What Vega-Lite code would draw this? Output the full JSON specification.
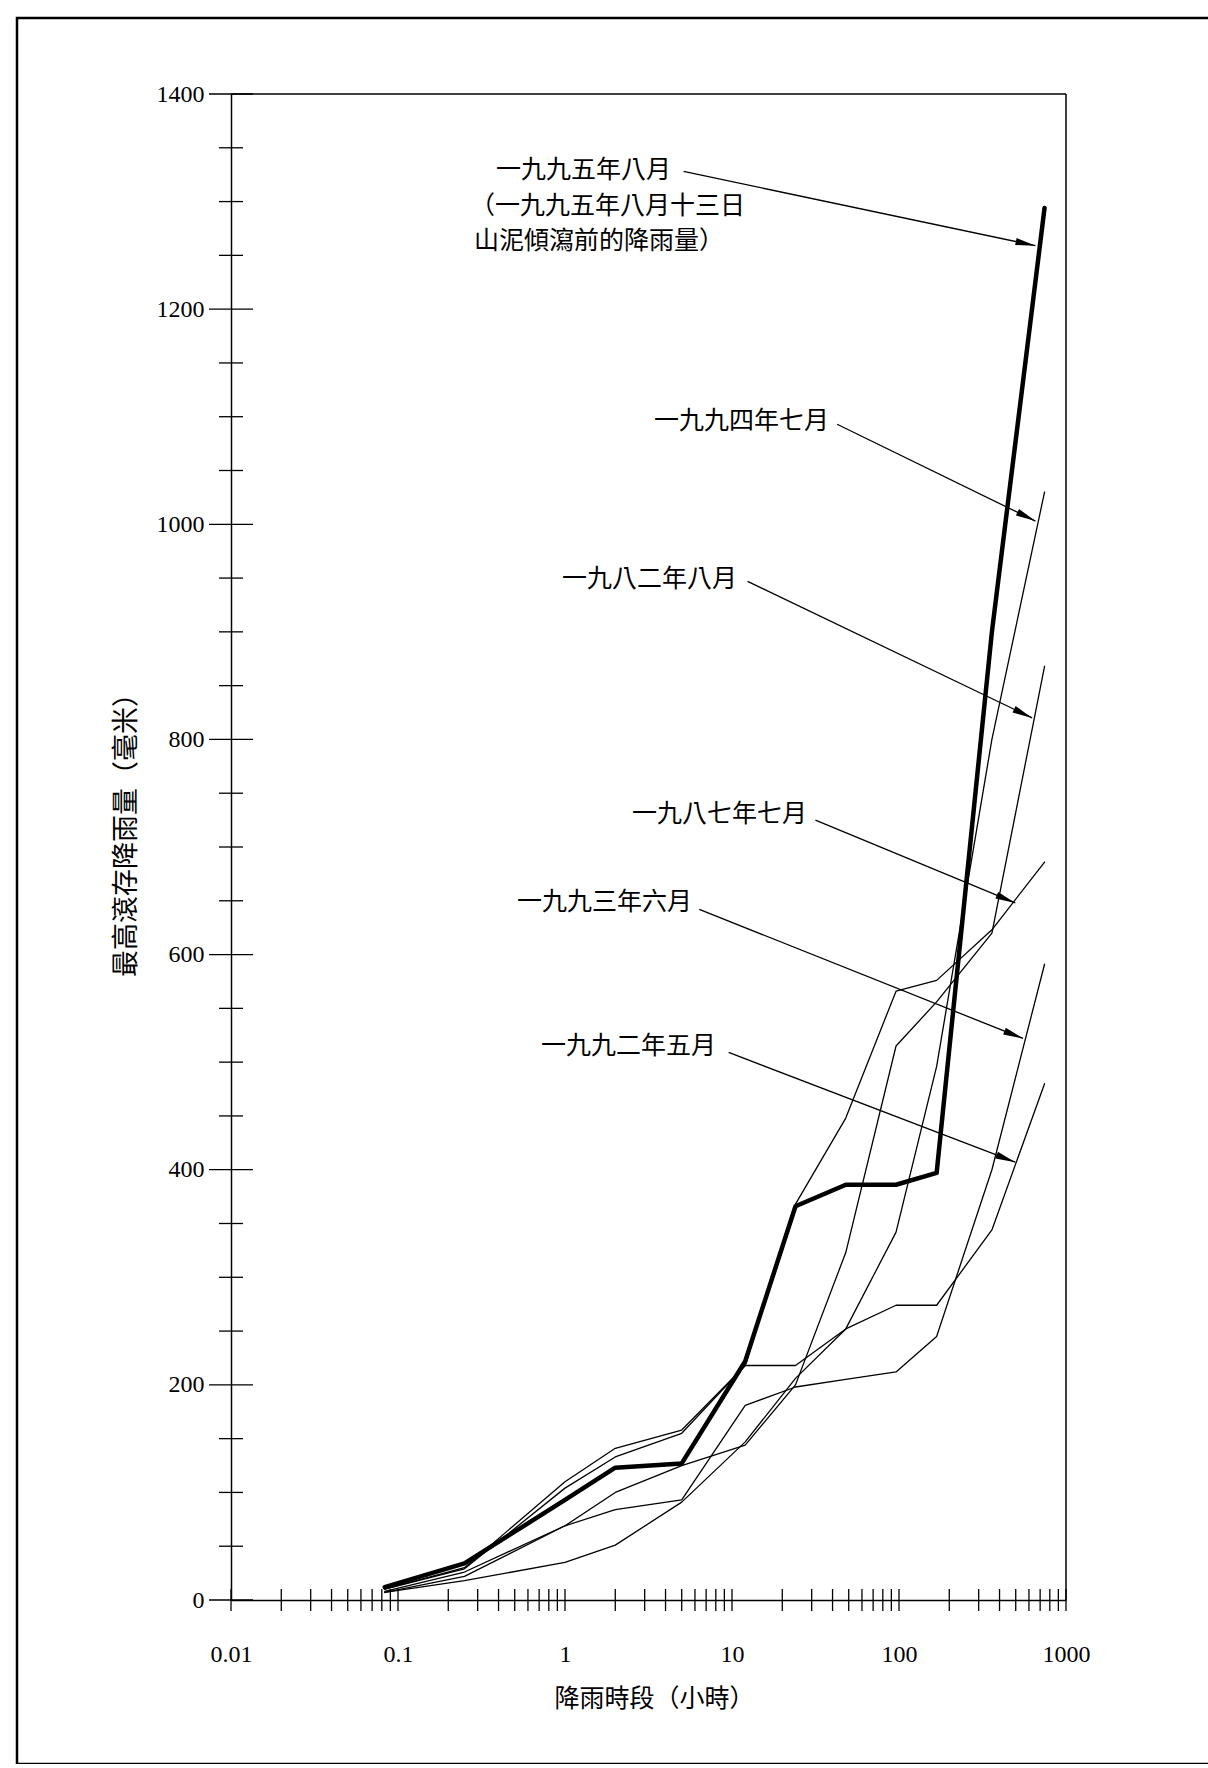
{
  "$schema": "https://vega.github.io/schema/vega-lite/v6.json",
  "autosize": "none",
  "width": 1200,
  "height": 1746,
  "padding": {"left": 17, "top": 18, "right": 0, "bottom": 0},
  "background": "white",
  "config": {
    "view": {"stroke": "black", "strokeWidth": 2.5},
    "font": "Noto Sans CJK TC"
  },
  "datasets": {
    "curves": [
      {"series": "1995-08", "h": 0.0833, "mm": 12}, {"series": "1995-08", "h": 0.25, "mm": 34}, {"series": "1995-08", "h": 1, "mm": 93}, {"series": "1995-08", "h": 2, "mm": 123}, {"series": "1995-08", "h": 5, "mm": 127}, {"series": "1995-08", "h": 12, "mm": 222}, {"series": "1995-08", "h": 24, "mm": 366}, {"series": "1995-08", "h": 48, "mm": 386}, {"series": "1995-08", "h": 96, "mm": 386}, {"series": "1995-08", "h": 168, "mm": 397}, {"series": "1995-08", "h": 360, "mm": 900}, {"series": "1995-08", "h": 744, "mm": 1294},
      {"series": "1992-05", "h": 0.0833, "mm": 10}, {"series": "1992-05", "h": 0.25, "mm": 30}, {"series": "1992-05", "h": 1, "mm": 110}, {"series": "1992-05", "h": 2, "mm": 141}, {"series": "1992-05", "h": 5, "mm": 158}, {"series": "1992-05", "h": 12, "mm": 218}, {"series": "1992-05", "h": 24, "mm": 218}, {"series": "1992-05", "h": 48, "mm": 252}, {"series": "1992-05", "h": 96, "mm": 274}, {"series": "1992-05", "h": 168, "mm": 274}, {"series": "1992-05", "h": 360, "mm": 344}, {"series": "1992-05", "h": 744, "mm": 480},
      {"series": "1987-07", "h": 0.0833, "mm": 10}, {"series": "1987-07", "h": 0.25, "mm": 29}, {"series": "1987-07", "h": 1, "mm": 104}, {"series": "1987-07", "h": 2, "mm": 133}, {"series": "1987-07", "h": 5, "mm": 155}, {"series": "1987-07", "h": 12, "mm": 218}, {"series": "1987-07", "h": 24, "mm": 368}, {"series": "1987-07", "h": 48, "mm": 448}, {"series": "1987-07", "h": 96, "mm": 566}, {"series": "1987-07", "h": 168, "mm": 576}, {"series": "1987-07", "h": 360, "mm": 623}, {"series": "1987-07", "h": 744, "mm": 686},
      {"series": "1993-06", "h": 0.0833, "mm": 7}, {"series": "1993-06", "h": 0.25, "mm": 22}, {"series": "1993-06", "h": 1, "mm": 69}, {"series": "1993-06", "h": 2, "mm": 84}, {"series": "1993-06", "h": 5, "mm": 93}, {"series": "1993-06", "h": 12, "mm": 181}, {"series": "1993-06", "h": 24, "mm": 198}, {"series": "1993-06", "h": 48, "mm": 205}, {"series": "1993-06", "h": 96, "mm": 212}, {"series": "1993-06", "h": 168, "mm": 245}, {"series": "1993-06", "h": 360, "mm": 400}, {"series": "1993-06", "h": 744, "mm": 591},
      {"series": "1994-07", "h": 0.0833, "mm": 7}, {"series": "1994-07", "h": 0.25, "mm": 18}, {"series": "1994-07", "h": 1, "mm": 35}, {"series": "1994-07", "h": 2, "mm": 51}, {"series": "1994-07", "h": 5, "mm": 91}, {"series": "1994-07", "h": 12, "mm": 147}, {"series": "1994-07", "h": 24, "mm": 206}, {"series": "1994-07", "h": 48, "mm": 252}, {"series": "1994-07", "h": 96, "mm": 342}, {"series": "1994-07", "h": 168, "mm": 496}, {"series": "1994-07", "h": 360, "mm": 800}, {"series": "1994-07", "h": 744, "mm": 1030},
      {"series": "1982-08", "h": 0.0833, "mm": 8}, {"series": "1982-08", "h": 0.25, "mm": 26}, {"series": "1982-08", "h": 1, "mm": 69}, {"series": "1982-08", "h": 2, "mm": 100}, {"series": "1982-08", "h": 5, "mm": 125}, {"series": "1982-08", "h": 12, "mm": 144}, {"series": "1982-08", "h": 24, "mm": 200}, {"series": "1982-08", "h": 48, "mm": 323}, {"series": "1982-08", "h": 96, "mm": 515}, {"series": "1982-08", "h": 168, "mm": 556}, {"series": "1982-08", "h": 360, "mm": 620}, {"series": "1982-08", "h": 744, "mm": 868}
    ],
    "labels": [
      {"text": "一九九五年八月", "x": 0.386, "y": 1329},
      {"text": "（一九九五年八月十三日", "x": 0.27, "y": 1296},
      {"text": "山泥傾瀉前的降雨量）", "x": 0.285, "y": 1263},
      {"text": "一九九四年七月", "x": 3.41, "y": 1096},
      {"text": "一九八二年八月", "x": 0.959, "y": 949},
      {"text": "一九八七年七月", "x": 2.52, "y": 731},
      {"text": "一九九三年六月", "x": 0.516, "y": 649},
      {"text": "一九九二年五月", "x": 0.718, "y": 515}
    ],
    "arrows": [
      {"x1": 5.13, "y1": 1328, "x2": 656, "y2": 1259},
      {"x1": 42.6, "y1": 1093, "x2": 656, "y2": 1003},
      {"x1": 12.4, "y1": 947, "x2": 627, "y2": 820},
      {"x1": 31.6, "y1": 725, "x2": 497, "y2": 648},
      {"x1": 6.37, "y1": 642, "x2": 553, "y2": 522},
      {"x1": 9.55, "y1": 509, "x2": 497, "y2": 407}
    ],
    "yMajor": [{"v": 0}, {"v": 200}, {"v": 400}, {"v": 600}, {"v": 800}, {"v": 1000}, {"v": 1200}, {"v": 1400}],
    "yMinor": [{"v": 50}, {"v": 100}, {"v": 150}, {"v": 250}, {"v": 300}, {"v": 350}, {"v": 450}, {"v": 500}, {"v": 550}, {"v": 650}, {"v": 700}, {"v": 750}, {"v": 850}, {"v": 900}, {"v": 950}, {"v": 1050}, {"v": 1100}, {"v": 1150}, {"v": 1250}, {"v": 1300}, {"v": 1350}],
    "xTicks": [
      {"t": 0.01}, {"t": 0.02}, {"t": 0.03}, {"t": 0.04}, {"t": 0.05}, {"t": 0.06}, {"t": 0.07}, {"t": 0.08}, {"t": 0.09},
      {"t": 0.1}, {"t": 0.2}, {"t": 0.3}, {"t": 0.4}, {"t": 0.5}, {"t": 0.6}, {"t": 0.7}, {"t": 0.8}, {"t": 0.9},
      {"t": 1}, {"t": 2}, {"t": 3}, {"t": 4}, {"t": 5}, {"t": 6}, {"t": 7}, {"t": 8}, {"t": 9},
      {"t": 10}, {"t": 20}, {"t": 30}, {"t": 40}, {"t": 50}, {"t": 60}, {"t": 70}, {"t": 80}, {"t": 90},
      {"t": 100}, {"t": 200}, {"t": 300}, {"t": 400}, {"t": 500}, {"t": 600}, {"t": 700}, {"t": 800}, {"t": 900},
      {"t": 1000}
    ]
  },
  "layer": [
    {
      "data": {"name": "curves"},
      "mark": {"type": "line", "color": "black", "strokeCap": "round", "strokeJoin": "round"},
      "encoding": {
        "x": {
          "field": "h", "type": "quantitative",
          "scale": {"type": "log", "domain": [0.01, 1000], "range": [214, 1049]},
          "axis": {
            "values": [0.01, 0.1, 1, 10, 100, 1000], "format": "~g",
            "ticks": false, "tickSize": 0, "grid": false,
            "labelPadding": 42, "labelFont": "Liberation Serif", "labelFontSize": 24, "labelColor": "black",
            "labelFlush": false, "labelOverlap": false,
            "domainColor": "black", "domainWidth": 1.5, "offset": -164,
            "title": "降雨時段（小時）", "titleFont": "Noto Sans CJK TC", "titleFontSize": 25, "titleFontWeight": "normal", "titleColor": "black",
            "titleX": 637, "titleY": 98, "titleBaseline": "middle", "titleAlign": "center"
          }
        },
        "y": {
          "field": "mm", "type": "quantitative",
          "scale": {"domain": [0, 1400], "range": [1582, 76], "nice": false, "zero": false},
          "axis": {
            "values": [0, 200, 400, 600, 800, 1000, 1200, 1400], "format": "d",
            "ticks": false, "tickSize": 0, "grid": false,
            "labelPadding": 27, "labelFont": "Liberation Serif", "labelFontSize": 24, "labelColor": "black",
            "labelFlush": false, "labelOverlap": false,
            "domainColor": "black", "domainWidth": 1.5, "offset": -214,
            "title": "最高滾存降雨量（毫米）", "titleFont": "Noto Sans CJK TC", "titleFontSize": 27, "titleFontWeight": "normal", "titleColor": "black",
            "titleX": -105, "titleY": 810, "titleAngle": 270, "titleBaseline": "middle", "titleAlign": "center"
          }
        },
        "detail": {"field": "series", "type": "nominal"},
        "strokeWidth": {
          "condition": {"test": "datum.series === '1995-08'", "value": 4.5},
          "value": 1.3
        }
      }
    },
    {
      "data": {"values": [{}]},
      "mark": {"type": "rule", "color": "black", "strokeWidth": 1.5},
      "encoding": {
        "x": {"datum": 0.01, "type": "quantitative"},
        "x2": {"datum": 1000},
        "y": {"datum": 1400, "type": "quantitative"}
      }
    },
    {
      "data": {"values": [{}]},
      "mark": {"type": "rule", "color": "black", "strokeWidth": 1.5},
      "encoding": {
        "x": {"datum": 1000, "type": "quantitative"},
        "y": {"datum": 0, "type": "quantitative"},
        "y2": {"datum": 1400}
      }
    },
    {
      "data": {"name": "yMajor"},
      "mark": {"type": "tick", "orient": "horizontal", "size": 44, "thickness": 1.3, "color": "black", "opacity": 1},
      "encoding": {
        "x": {"datum": 0.01, "type": "quantitative"},
        "y": {"field": "v", "type": "quantitative"}
      }
    },
    {
      "data": {"name": "yMinor"},
      "mark": {"type": "tick", "orient": "horizontal", "size": 24, "thickness": 1.3, "color": "black", "opacity": 1},
      "encoding": {
        "x": {"datum": 0.01, "type": "quantitative"},
        "y": {"field": "v", "type": "quantitative"}
      }
    },
    {
      "data": {"name": "xTicks"},
      "mark": {"type": "tick", "orient": "vertical", "size": 22, "thickness": 1.3, "color": "black", "opacity": 1},
      "encoding": {
        "x": {"field": "t", "type": "quantitative"},
        "y": {"datum": 0, "type": "quantitative"}
      }
    },
    {
      "data": {"name": "labels"},
      "mark": {"type": "text", "align": "left", "baseline": "middle", "font": "Noto Sans CJK TC", "fontSize": 25, "color": "black"},
      "encoding": {
        "x": {"field": "x", "type": "quantitative"},
        "y": {"field": "y", "type": "quantitative"},
        "text": {"field": "text"}
      }
    },
    {
      "data": {"name": "arrows"},
      "mark": {"type": "rule", "color": "black", "strokeWidth": 1.3},
      "encoding": {
        "x": {"field": "x1", "type": "quantitative"},
        "y": {"field": "y1", "type": "quantitative"},
        "x2": {"field": "x2"},
        "y2": {"field": "y2"}
      }
    },
    {
      "data": {"name": "arrows"},
      "transform": [
        {"calculate": "atan2((datum.y1 - datum.y2) * 1.0757, (log(datum.x2) - log(datum.x1)) / LN10 * 167) * 180 / PI", "as": "ang"}
      ],
      "mark": {"type": "point", "shape": "M0,0L-2,-0.36L-2,0.36Z", "filled": true, "color": "black", "size": 400, "opacity": 1},
      "encoding": {
        "x": {"field": "x2", "type": "quantitative"},
        "y": {"field": "y2", "type": "quantitative"},
        "angle": {"field": "ang", "type": "quantitative", "scale": null}
      }
    }
  ]
}
